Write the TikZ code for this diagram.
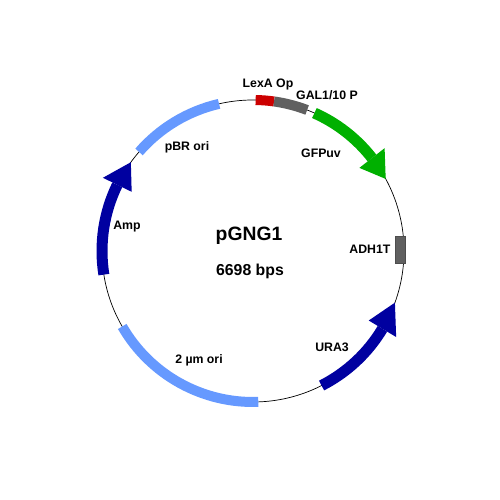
\documentclass[tikz,border=0pt]{standalone}
\usepackage{fontspec}
\setmainfont{Liberation Sans}
\usetikzlibrary{positioning}
\definecolor{darkblue}{HTML}{0000A0}
\definecolor{lightblue}{HTML}{6699FF}
\definecolor{genegreen}{HTML}{00B000}
\definecolor{opred}{HTML}{CC0000}
\definecolor{promgray}{HTML}{606060}

% band with arrow head: start angle, head base angle, tip angle, colour
\newcommand{\featarrow}[4]{%
    \draw[band, line width=0.22cm, draw=#4] (#1:\R) arc[start angle=#1, end angle=#2, radius=\R];
    \fill[#4] (#2:\R-0.32) -- (#2:\R+0.32) -- (#3:\R) -- cycle;
}

\begin{document}
\begin{tikzpicture}[
    band/.style={line width=0.2cm},
    backbone/.style={draw=black, line width=0.4pt},
    featlabel/.style={font=\bfseries\fontsize{7}{8}\selectfont, text=black, inner sep=0pt},
    titlelabel/.style={font=\bfseries\fontsize{11}{12}\selectfont, text=black, inner sep=0pt},
    sizelabel/.style={font=\bfseries\fontsize{9}{10}\selectfont, text=black, inner sep=0pt},
]
\def\R{3.02}

% === Canvas ===
\useasboundingbox (0,0) rectangle (10,10);

\begin{scope}[shift={(5.06,4.98)}]

% === Backbone ===
\draw[backbone] (0,0) circle[radius=\R];

% === Plain features ===
\draw[band, draw=opred] (89:\R) arc[start angle=89, end angle=82, radius=\R];
\draw[band, draw=promgray] (82:\R) arc[start angle=82, end angle=69, radius=\R];
\draw[band, draw=lightblue] (139:\R) arc[start angle=139, end angle=103, radius=\R];
\draw[band, draw=lightblue] (-150:\R) arc[start angle=-150, end angle=-88, radius=\R];
\node[draw=promgray!80!black, fill=promgray, line width=0.3pt,
      minimum width=0.2cm, minimum height=0.54cm, inner sep=0pt]
      (adh) at (2.94,0.03) {};

% === Genes with direction ===
\featarrow{66}{38}{28.5}{genegreen}
\featarrow{-63}{-31}{-20}{darkblue}
\featarrow{189}{154}{144}{darkblue}

% === Labels ===
\node[featlabel] (lexa) at (0.30,3.34) {LexA Op};
\node[featlabel] (gal) at (1.48,3.12) {GAL1/10 P};
\node[featlabel] (gfp) at (1.36,1.96) {GFPuv};
\node[featlabel] (pbr) at (-1.32,2.08) {pBR ori};
\node[featlabel] (amp) at (-2.52,0.48) {Amp};
\node[featlabel, left=0.08cm of adh] (adhlab) {ADH1T};
\node[featlabel] (ura) at (1.58,-1.92) {URA3};
\node[featlabel] (twomu) at (-1.08,-2.18) {2 µm ori};

% === Plasmid name and size ===
\node[titlelabel] (name) at (-0.08,0.31) {pGNG1};
\node[sizelabel] (size) at (-0.06,-0.40) {6698 bps};

\end{scope}
\end{tikzpicture}
\end{document}
